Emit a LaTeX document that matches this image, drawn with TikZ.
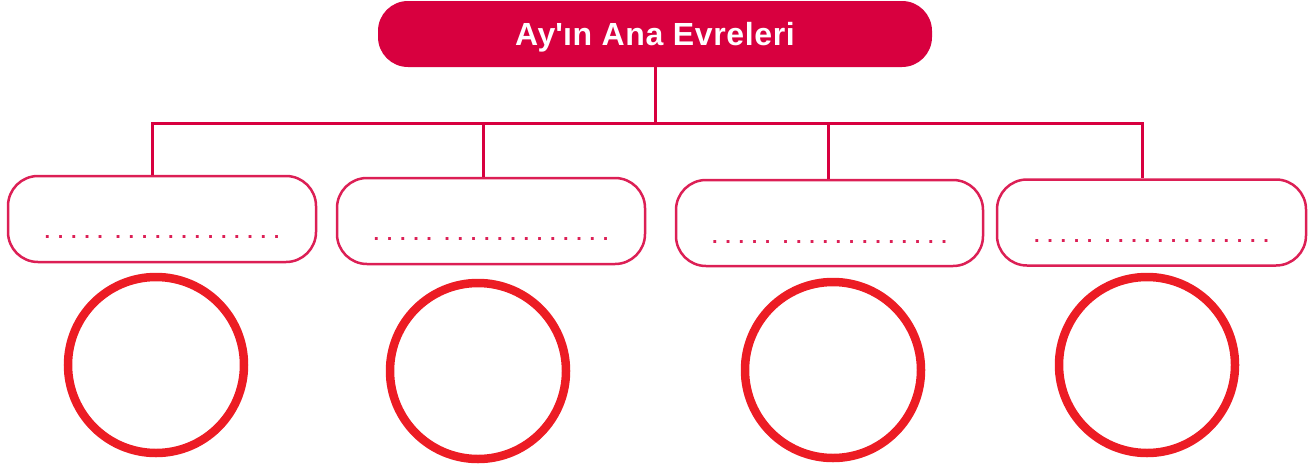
\documentclass[tikz,border=0pt]{standalone}
\usepackage{fontspec}
\setmainfont{Liberation Sans}
\definecolor{crimson}{HTML}{D8003F}
\definecolor{rose}{HTML}{DC1F55}
\definecolor{ringred}{HTML}{EC1C24}
\newcommand\dotrow[1]{.\foreach \k in {2,...,#1}{\hspace{7.64pt}.}}
\begin{document}
\begin{tikzpicture}[x=1pt,y=-1pt,
    title/.style={%
      fill=crimson,
      rounded corners=30pt,
      minimum width=554pt,
      minimum height=66pt,
      text height=22pt,
      text depth=0pt,
      text=white,
      font=\bfseries\fontsize{32}{38}\selectfont\addfontfeature{LetterSpace=2},
    },
    phase/.style={%
      draw=rose,
      line width=2.5pt,
      rounded corners=30pt,
      minimum height=86pt,
    },
    fillin/.style={%
      inner sep=0pt,
      text=rose,
      font=\bfseries\fontsize{20}{20}\selectfont,
    },
    ring/.style={%
      draw=ringred,
      line width=8.5pt,
      circle,
      inner sep=0pt,
      minimum size=176pt,
    },
    link/.style={%
      draw=crimson,
      line width=3pt,
    },
  ]
    \useasboundingbox (0,0) rectangle (1311,469);

    \node [title] (T) at (655,34) {Ay\textquotesingle ın Ana Evreleri};

    \node [phase,minimum width=308pt] (B1) at (162,219) {};
    \node [phase,minimum width=308pt] (B2) at (491,221) {};
    \node [phase,minimum width=307pt] (B3) at (829.5,223) {};
    \node [phase,minimum width=309pt] (B4) at (1151.5,222.5) {};

    \node [fillin] (D1) at ([yshift=-18pt]B1.center) {\dotrow{5}\hspace{12.4pt}\dotrow{13}};
    \node [fillin] (D2) at ([yshift=-18pt]B2.center) {\dotrow{5}\hspace{12.4pt}\dotrow{13}};
    \node [fillin] (D3) at ([yshift=-19pt]B3.center) {\dotrow{5}\hspace{12.4pt}\dotrow{13}};
    \node [fillin] (D4) at ([yshift=-18.5pt]B4.center) {\dotrow{5}\hspace{12.4pt}\dotrow{13}};

    \node [ring] (C1) at (156,365) {};
    \node [ring] (C2) at (478,371) {};
    \node [ring] (C3) at (833,370) {};
    \node [ring] (C4) at (1147,365) {};

    % branch points on the bar
    \coordinate (hub) at (T.south |- 0,123);
    \coordinate (J1) at (152,123);
    \coordinate (J2) at (483,123);
    \coordinate (J3) at (828,123);
    \coordinate (J4) at (1142,123);

    \draw [link] (T.south) -- (hub);
    \draw [link,line cap=rect] (J1) -- (J4);
    \draw [link] (J1) -- (J1 |- B1.north);
    \draw [link] (J2) -- (J2 |- B2.north);
    \draw [link] (J3) -- (J3 |- B3.north);
    \draw [link] (J4) -- (J4 |- B4.north);
\end{tikzpicture}
\end{document}
